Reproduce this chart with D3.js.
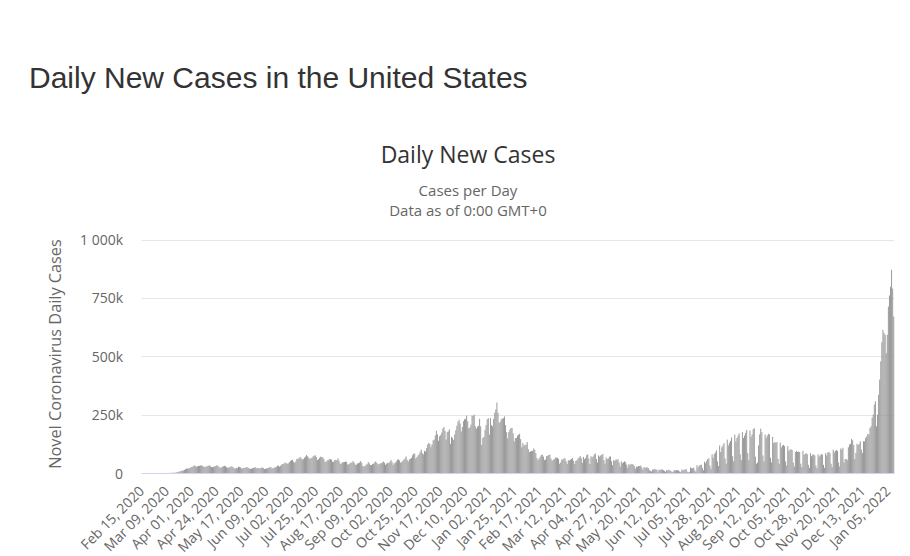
<!DOCTYPE html>
<html>
<head>
<meta charset="utf-8">
<script src="https://cdn.jsdelivr.net/npm/d3@7"></script>
<style>
  body { margin: 0; background: #fff; }
  svg { display: block; }
</style>
</head>
<body>
<div id="chart"></div>
<script>
// daily new cases in thousands, one row per week (Sat..Fri), starting Sat Feb 15 2020
const dailyCases = [
  0,0,0,0,0,0,0,
  0,0,0,0,0,0,0,
  0,0,0,0,0,0.1,0.1,
  0.1,0.1,0.2,0.3,0.4,0.5,0.7,
  0.8,0.9,1.3,1.8,2.8,4.7,5.6,
  7,9,10,11,13,17,19,
  19,20,21,25,26,29,32,
  31,26,29,30,31,32,33,
  30,27,26,27,29,31,33,
  29,26,25,27,28,30,33,
  31,26,23,24,27,29,31,
  29,25,22,24,24,28,28,
  25,20,19,22,21,27,26,
  24,19,21,21,23,24,25,
  22,19,18,19,20,22,24,
  24,20,21,21,20,22,24,
  21,17,18,19,21,22,25,
  25,19,21,23,24,27,31,
  32,27,31,36,38,40,45,
  42,40,41,47,52,55,57,
  48,44,49,60,62,63,69,
  63,58,60,66,70,77,72,
  65,62,62,66,71,74,76,
  68,56,59,65,70,68,68,
  60,48,48,54,55,59,60,
  57,48,48,55,56,55,63,
  53,40,40,46,46,47,49,
  48,36,38,41,44,46,51,
  44,35,36,41,42,45,51,
  44,30,27,30,35,38,47,
  41,34,34,39,40,46,50,
  43,37,38,41,42,45,49,
  44,35,40,44,42,48,56,
  48,35,42,44,50,57,58,
  54,45,46,52,57,63,71,
  56,49,59,61,65,76,83,
  83,62,68,75,80,91,100,
  85,80,95,92,106,122,129,
  125,111,122,140,143,161,181,
  165,138,157,162,173,190,197,
  180,143,175,178,187,125,155,
  150,142,165,183,202,220,228,
  212,178,197,222,230,232,246,
  222,192,195,207,245,245,250,
  200,190,198,202,232,200,120,
  150,155,185,205,230,235,165,
  235,205,200,232,258,272,302,
  258,215,220,230,233,235,242,
  205,175,148,175,186,193,193,
  170,135,150,150,160,164,168,
  145,110,128,118,120,122,133,
  102,90,92,94,95,105,98,
  85,64,55,62,70,77,79,
  70,55,58,72,74,77,79,
  62,52,57,59,66,66,65,
  60,40,45,58,58,62,63,
  50,39,55,54,57,60,64,
  52,39,52,55,62,66,73,
  64,44,69,59,64,76,80,
  62,38,72,66,71,80,83,
  60,45,75,70,75,78,82,
  55,40,67,60,62,70,71,
  50,34,55,52,57,58,58,
  45,28,50,42,46,50,46,
  36,23,38,34,39,38,36,
  30,18,28,26,30,30,32,
  24,14,25,22,24,24,21,
  13,8,7,15,15,17,15,
  14,6,15,13,15,15,12,
  9,5,13,11,14,12,8,
  6,5,13,11,12,12,11,
  7,4,15,11,14,15,17,
  6,3,5,24,20,21,23,
  12,6,33,24,32,34,36,
  22,12,48,42,52,60,63,
  32,18,80,65,82,88,97,
  50,30,118,90,110,118,128,
  62,40,143,118,130,138,152,
  72,50,165,135,150,160,170,
  80,55,175,150,160,172,185,
  85,55,182,155,165,188,192,
  70,40,45,118,165,190,175,
  75,50,165,150,160,168,165,
  65,45,155,128,132,130,132,
  60,40,130,110,118,120,115,
  50,32,115,95,100,102,98,
  45,28,90,95,90,92,90,
  40,25,95,78,82,85,80,
  35,22,85,72,78,80,75,
  32,20,80,70,76,82,78,
  35,22,85,75,88,90,85,
  40,25,100,88,95,98,95,
  45,28,105,100,108,45,60,
  60,55,110,122,125,146,140,
  120,60,86,125,120,125,136,
  100,86,136,136,150,157,167,
  165,193,200,236,250,293,307,
  200,250,335,400,478,560,613,
  600,592,513,592,713,760,798,
  870,790,670
];

const firstDay = "2020-02-15";

const xTickLabels = [
  "Feb 15, 2020", "Mar 09, 2020", "Apr 01, 2020", "Apr 24, 2020", "May 17, 2020",
  "Jun 09, 2020", "Jul 02, 2020", "Jul 25, 2020", "Aug 17, 2020", "Sep 09, 2020",
  "Oct 02, 2020", "Oct 25, 2020", "Nov 17, 2020", "Dec 10, 2020", "Jan 02, 2021",
  "Jan 25, 2021", "Feb 17, 2021", "Mar 12, 2021", "Apr 04, 2021", "Apr 27, 2021",
  "May 20, 2021", "Jun 12, 2021", "Jul 05, 2021", "Jul 28, 2021", "Aug 20, 2021",
  "Sep 12, 2021", "Oct 05, 2021", "Oct 28, 2021", "Nov 20, 2021", "Dec 13, 2021",
  "Jan 05, 2022"
];

const yTicks = [0, 250, 500, 750, 1000];

const width = 910, height = 556;
const margin = {top: 239.5, right: 15.7, bottom: 82.5, left: 141.7};

const svg = d3.select("#chart")
  .append("svg")
    .attr("width", width)
    .attr("height", height)
    .attr("viewBox", `0 0 ${width} ${height}`);

// date categories, one per value
const start = d3.timeParse("%Y-%m-%d")(firstDay);
const fmtDay = d3.timeFormat("%b %d, %Y");
const categories = dailyCases.map((d, i) => fmtDay(d3.timeDay.offset(start, i)));
const data = dailyCases.map((v, i) => ({day: categories[i], value: v}));

const xScale = d3.scaleBand()
  .domain(categories)
  .range([margin.left, width - margin.right])
  .paddingInner(0.12)
  .paddingOuter(0.06);

const yScale = d3.scaleLinear()
  .domain([0, 1000])
  .range([height - margin.bottom - 0.5, margin.top]);

const spaced = d3.formatLocale({decimal: ".", thousands: " ", grouping: [3], currency: ["", ""]}).format(",");
const yLabel = v => v === 0 ? "0" : spaced(v) + "k";

// page heading
svg.append("text")
  .attr("x", 29)
  .attr("y", 88)
  .attr("font-family", "'Liberation Sans', Arial, sans-serif")
  .attr("font-size", 30)
  .attr("fill", "#333")
  .text("Daily New Cases in the United States");

// chart title + subtitle
const cx = 468;
svg.append("text")
  .attr("x", cx).attr("y", 163)
  .attr("text-anchor", "middle")
  .attr("font-family", "'Open Sans', sans-serif")
  .attr("font-size", 23)
  .attr("fill", "#333")
  .text("Daily New Cases");

svg.append("text")
  .attr("x", cx).attr("y", 196)
  .attr("text-anchor", "middle")
  .attr("font-family", "'Open Sans', sans-serif")
  .attr("font-size", 15)
  .attr("fill", "#666")
  .text("Cases per Day");

svg.append("text")
  .attr("x", cx).attr("y", 215.5)
  .attr("text-anchor", "middle")
  .attr("font-family", "'Open Sans', sans-serif")
  .attr("font-size", 15)
  .attr("fill", "#666")
  .text("Data as of 0:00 GMT+0");

// gridlines
svg.append("g")
  .selectAll("line")
  .data(yTicks.filter(t => t > 0))
  .join("line")
    .attr("x1", margin.left)
    .attr("x2", width - margin.right)
    .attr("y1", d => Math.round(yScale(d)) + 0.5)
    .attr("y2", d => Math.round(yScale(d)) + 0.5)
    .attr("stroke", "#e6e6e6")
    .attr("stroke-width", 1);

// y axis labels
const yAxis = d3.axisLeft(yScale)
  .tickValues(yTicks)
  .tickFormat(yLabel)
  .tickSize(0)
  .tickPadding(0);

svg.append("g")
  .attr("transform", `translate(123,0)`)
  .call(yAxis)
  .call(g => g.select(".domain").remove())
  .call(g => g.selectAll("text")
    .attr("font-family", "'Open Sans', sans-serif")
    .attr("font-size", 14)
    .attr("fill", "#666")
    .attr("dy", "0.36em"));

// y axis title
svg.append("text")
  .attr("transform", "translate(61,354) rotate(-90)")
  .attr("text-anchor", "middle")
  .attr("font-family", "'Open Sans', sans-serif")
  .attr("font-size", 16.3)
  .attr("fill", "#666")
  .text("Novel Coronavirus Daily Cases");

// bars
svg.append("g")
  .selectAll("rect")
  .data(data)
  .join("rect")
    .attr("x", d => xScale(d.day))
    .attr("width", xScale.bandwidth())
    .attr("y", d => yScale(d.value))
    .attr("height", d => yScale(0) - yScale(d.value))
    .attr("fill", "#959595");

// x axis line
svg.append("line")
  .attr("x1", margin.left)
  .attr("x2", width - margin.right)
  .attr("y1", yScale(0) + 0.5)
  .attr("y2", yScale(0) + 0.5)
  .attr("stroke", "#ccd6eb")
  .attr("stroke-width", 1);

// x axis labels, rotated
const xAxis = d3.axisBottom(xScale)
  .tickValues(xTickLabels)
  .tickSize(0);

svg.append("g")
  .attr("transform", `translate(0,${yScale(0)})`)
  .call(xAxis)
  .call(g => g.select(".domain").remove())
  .call(g => g.selectAll("text")
    .attr("font-family", "'Open Sans', sans-serif")
    .attr("font-size", 14)
    .attr("fill", "#666")
    .attr("text-anchor", "end")
    .attr("x", 0).attr("y", 0).attr("dy", 0)
    .attr("transform", "translate(3,19) rotate(-45)"));
</script>
</body>
</html>
